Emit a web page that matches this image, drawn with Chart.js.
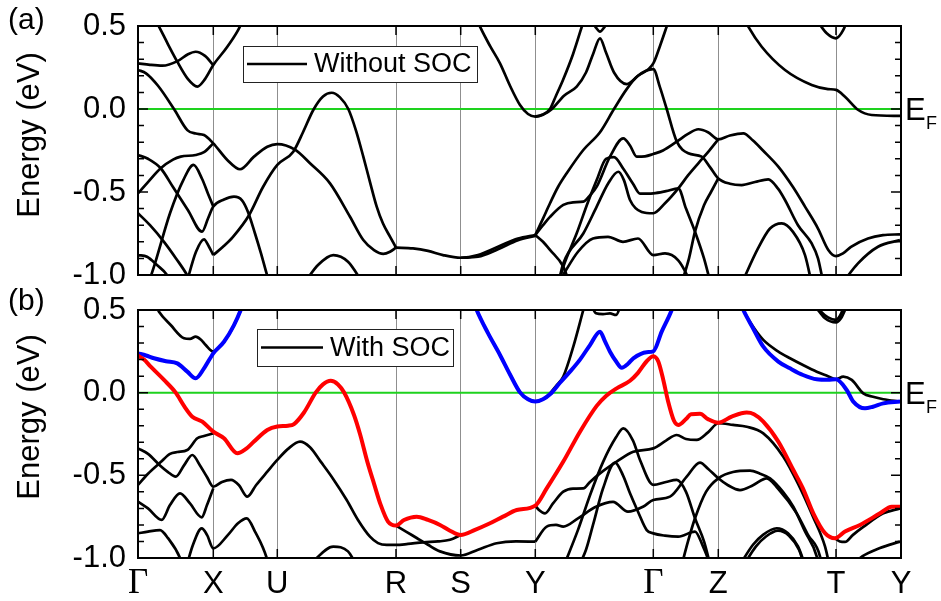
<!DOCTYPE html>
<html>
<head>
<meta charset="utf-8">
<title>Band structure with and without SOC</title>
<script src="https://cdn.jsdelivr.net/npm/chart.js@4.4.0/dist/chart.umd.min.js"></script>
<style>
  html, body { margin: 0; padding: 0; background: #fff; }
  #wrap { position: relative; width: 941px; height: 601px; }
  canvas { position: absolute; left: 0; }
  #chartA { top: 0; }
  #chartB { top: 280px; }
</style>
</head>
<body>
<div id="wrap">
  <canvas id="chartA" width="941" height="300"></canvas>
  <canvas id="chartB" width="941" height="321"></canvas>
</div>
<script>
// k-path (distance along the path) and labels of the high-symmetry points
const kTicks = [0, 75.3, 139.3, 258, 322.7, 397.3, 515.3, 580.3, 698, 763];
const kLabels = ["Γ", "X", "U", "R", "S", "Y", "Γ", "Z", "T", "Y"];
const energyTicks = [-1.0, -0.5, 0.0, 0.5];
const fermiLevel = [[0, 0], [763, 0]];

// ===== (a) without SOC : bands as [k, E(eV)] =====
const ns1 = [[8,0.64],[21,0.496],[30,0.39],[39.3,0.285],[50,0.18],[59.3,0.135],[67,0.18],[75.3,0.265],[89.3,0.375],[102.7,0.506],[106,0.56]];
const ns2 = [[0,0.275],[12,0.266],[24.3,0.261],[40,0.29],[50,0.33],[57.7,0.345],[67,0.32],[75.3,0.265]];
const ns3 = [[0,0.235],[8,0.215],[20,0.14],[36,0],[49.3,-0.127],[57.7,-0.148],[66,-0.157],[75.3,-0.207],[89.3,-0.307],[102,-0.363],[116,-0.287],[129.3,-0.227],[139.3,-0.211],[157,-0.245],[172,-0.327],[192,-0.448],[212,-0.649],[225.3,-0.789],[236,-0.85],[245.3,-0.873],[252,-0.86],[258,-0.835]];
const ns4 = [[0,-0.508],[10,-0.44],[22.7,-0.357],[35,-0.305],[42.7,-0.287],[57.7,-0.277],[66,-0.26],[75.3,-0.207]];
const ns5 = [[0,-0.277],[10,-0.3],[22.7,-0.357],[35,-0.47],[50,-0.61],[64,-0.739],[70,-0.66],[75.3,-0.588],[86,-0.545],[96,-0.528],[104,-0.55],[110,-0.62],[117,-0.75],[123,-0.87],[129,-1.0],[132,-1.06]];
const ns6 = [[10,-1.06],[17,-0.93],[32,-0.628],[45.3,-0.428],[55.5,-0.337],[64,-0.42],[70,-0.51],[75.3,-0.588]];
const ns7 = [[0,-0.628],[12,-0.7],[26,-0.8],[38,-0.9],[49,-1.0],[53,-1.05]];
const ns8 = [[0,-0.88],[9,-0.89],[19,-0.94],[29,-1.0],[33,-1.05]];
const ns9 = [[48,-1.06],[58,-0.86],[66,-0.785],[71,-0.83],[75.3,-0.88]];
const ns10 = [[75.3,-0.88],[85,-0.83],[95,-0.77],[111,-0.64],[125,-0.47],[139.3,-0.337],[155.3,-0.257],[165,-0.14],[175.3,-0.006],[185,0.075],[193.7,0.098],[202,0.07],[210.3,0],[218,-0.13],[225.3,-0.287],[232,-0.44],[238.7,-0.588],[245,-0.69],[252,-0.769],[258,-0.835]];
const ns11 = [[165,-1.06],[180,-0.94],[195.3,-0.88],[210,-0.92],[226,-1.06]];
const ns12 = [[258,-0.835],[275,-0.84],[290,-0.855],[305,-0.88],[322.7,-0.896],[340,-0.88],[360,-0.83],[380,-0.78],[397.3,-0.759]];
const ns13 = [[322.7,-0.896],[340,-0.89],[360,-0.845],[380,-0.79],[397.3,-0.765]];
const ns14 = [[336,0.58],[342,0.496],[352,0.38],[362,0.275],[372,0.14],[382,0.024],[390,-0.03],[397.3,-0.046],[405,-0.035],[414,0],[426,0.08],[438.7,0.135],[448,0.22],[455.3,0.335],[462,0.426],[468,0.34],[476,0.22],[488.7,0.15],[500,0.2],[515.3,0.275],[522,0.38],[530,0.52]];
const ns15 = [[397.3,-0.046],[404,-0.035],[412,0],[418,0.08],[425,0.175],[435,0.33],[444,0.5],[447,0.56]];
const ns16 = [[452,0.55],[458,0.49],[462,0.466],[466,0.49],[472,0.55]];
const ns17 = [[397.3,-0.759],[405,-0.66],[412,-0.568],[420,-0.47],[428.7,-0.387],[445.3,-0.247],[462,-0.14],[476,0],[488.7,0.12],[500,0.2],[515.3,0.24],[522,0.13],[528.7,0],[538.7,-0.195],[550.3,-0.267],[563.7,-0.287],[572,-0.35],[580.3,-0.418],[592,-0.45],[603.7,-0.458],[617,-0.44],[630.3,-0.424],[640,-0.48],[647,-0.548],[660,-0.7],[673.7,-0.81],[680,-0.9],[683.7,-1.0],[686,-1.06]];
const ns18 = [[397.3,-0.759],[405,-0.7],[412,-0.65],[425.3,-0.578],[435,-0.562],[445.3,-0.558],[452,-0.52],[458.7,-0.468],[472,-0.287],[485.3,-0.177],[492,-0.22],[498.7,-0.287],[507,-0.285],[515.3,-0.271],[525,-0.25],[538.7,-0.197],[550,-0.15],[560.3,-0.122],[570,-0.14],[580.3,-0.183],[592,-0.16],[605.3,-0.147],[615,-0.19],[625,-0.25],[640.3,-0.347],[655,-0.47],[667,-0.588],[680,-0.72],[690.3,-0.849],[698,-0.886],[705,-0.87],[713,-0.83],[730,-0.78],[745,-0.76],[762,-0.755]];
const ns19 = [[420,-1.06],[425.3,-0.95],[438.7,-0.749],[450,-0.56],[458.7,-0.428],[468,-0.3],[476,-0.29],[485.3,-0.36],[495,-0.45],[502,-0.51],[515.3,-0.508],[528,-0.495],[540.3,-0.478],[548,-0.6],[557,-0.739],[566,-0.9],[573,-1.06]];
const ns20 = [[420,-1.06],[425.3,-0.93],[445.3,-0.75],[458.7,-0.588],[470,-0.45],[480.3,-0.378],[486,-0.43],[492,-0.548],[503.7,-0.62],[515.3,-0.628],[527,-0.568],[540.3,-0.478],[550,-0.4],[560.3,-0.327],[570,-0.26],[580.3,-0.183]];
const ns21 = [[397.3,-0.759],[405,-0.8],[412,-0.849],[425.3,-0.95],[432,-1.06]];
const ns22 = [[425,-1.0],[440,-0.86],[455,-0.78],[470,-0.77],[485,-0.8],[500,-0.78],[515.3,-0.88],[527,-0.87],[540,-0.91],[549,-1.0],[553,-1.06]];
const ns23 = [[543,-1.06],[551,-0.9],[557,-0.739],[566,-0.58],[573,-0.5],[580.3,-0.418]];
const ns24 = [[603,-1.06],[620,-0.84],[632,-0.72],[643.7,-0.689],[655,-0.74],[667,-0.88],[674,-1.06]];
const ns25 = [[703,-1.06],[720,-0.93],[740,-0.83],[762,-0.79]];
const ns26 = [[605,0.56],[610.3,0.496],[623.7,0.375],[647,0.235],[673.7,0.145],[690,0.12],[698,0.115],[707,0.074],[720.3,-0.006],[733.7,-0.036],[762,-0.042]];
const ns27 = [[677,0.55],[688.7,0.456],[698,0.426],[705.3,0.476],[710,0.55]];

// ===== (b) with SOC =====
const socBlue1 = [[0,0.238],[8,0.225],[16,0.208],[28,0.19],[39.3,0.177],[49.3,0.127],[57.7,0.087],[66,0.147],[75.3,0.238],[86,0.308],[96,0.409],[102.7,0.5],[106,0.56]];
const socBlue2 = [[334,0.58],[338.7,0.5],[350,0.36],[362,0.228],[372,0.11],[382,0.002],[390,-0.04],[397.3,-0.054],[405,-0.04],[412,-0.01],[422,0.06],[432,0.127],[442,0.2],[452,0.288],[462,0.369],[467,0.31],[472,0.248],[478,0.19],[483.7,0.151],[490,0.175],[495.3,0.208],[508.7,0.245],[515.3,0.25],[523.7,0.369],[533.7,0.5],[537,0.56]];
const socBlue3 = [[600,0.58],[605.3,0.5],[615,0.39],[625.3,0.278],[640.3,0.188],[652,0.147],[665,0.107],[678.7,0.081],[690,0.078],[698,0.081],[708.7,0.016],[715.3,-0.054],[727,-0.095],[735,-0.085],[745.3,-0.065],[762,-0.054]];
const socRed = [[0,0.224],[6,0.2],[12.7,0.157],[26,0.077],[37.7,0],[46,-0.08],[54.3,-0.145],[64.3,-0.175],[75.3,-0.236],[86,-0.276],[99.3,-0.367],[108,-0.34],[116,-0.296],[129.3,-0.226],[139.3,-0.205],[150,-0.2],[156,-0.19],[166,-0.12],[177.7,0],[185,0.05],[192.7,0.072],[200,0.05],[206,0.002],[216,-0.135],[222,-0.25],[229.3,-0.417],[236,-0.55],[242.7,-0.679],[250,-0.78],[258,-0.804],[266,-0.77],[278.7,-0.75],[290,-0.77],[302,-0.8],[312,-0.835],[322.7,-0.861],[337,-0.83],[352,-0.79],[365,-0.75],[378.7,-0.71],[397.3,-0.683],[408.7,-0.579],[425.3,-0.417],[442,-0.236],[458.7,-0.08],[468,-0.02],[478.7,0.026],[492,0.072],[500,0.12],[508.7,0.19],[515.3,0.22],[520.3,0.188],[525.3,0.077],[530,-0.05],[536,-0.17],[540.3,-0.196],[548,-0.16],[553,-0.13],[562,-0.128],[570,-0.16],[580.3,-0.182],[593.7,-0.145],[608.7,-0.12],[616,-0.13],[625.3,-0.175],[640.3,-0.296],[655.3,-0.468],[665,-0.58],[675.3,-0.73],[687,-0.85],[697,-0.881],[707,-0.84],[722,-0.8],[742,-0.73],[753.7,-0.69],[762,-0.69]];
const so1 = [[8,0.64],[21,0.49],[32.7,0.409],[46,0.329],[52,0.325],[57.7,0.339],[63,0.32],[67.7,0.288],[75.3,0.248],[86,0.308],[96,0.409],[102.7,0.5],[106,0.56]];
const so2 = [[0,-0.558],[10,-0.49],[22.7,-0.42],[32,-0.37],[39.3,-0.359],[49.3,-0.347],[59.3,-0.276],[66,-0.262],[75.3,-0.246]];
const so3 = [[0,-0.337],[10,-0.37],[22,-0.44],[30,-0.48],[37.7,-0.508],[46,-0.44],[54.3,-0.377],[62,-0.44],[69,-0.51],[75.3,-0.569],[84,-0.54],[93,-0.528],[101,-0.56],[109.3,-0.629],[118,-0.56],[129.3,-0.478],[139.3,-0.407],[150,-0.34],[162,-0.296],[172,-0.33],[182.7,-0.417],[195,-0.52],[208.7,-0.649],[220,-0.77],[232,-0.871],[240,-0.91],[248.7,-0.921],[258,-0.921],[270,-0.915],[285.3,-0.905],[300,-0.9],[312,-0.89],[322.7,-0.861]];
const so4 = [[0,-0.659],[10,-0.7],[23.7,-0.77],[32,-0.68],[42,-0.609],[52,-0.67],[63.7,-0.754],[69,-0.68],[75.3,-0.579]];
const so5 = [[0,-0.851],[10,-0.84],[22,-0.831],[30,-0.88],[42,-1.0],[45,-1.06]];
const so6 = [[48,-1.06],[55,-0.92],[63.7,-0.821],[69,-0.86],[75.3,-0.942],[90,-0.86],[100,-0.79],[108.7,-0.76],[117,-0.84],[128.7,-1.0],[131,-1.06]];
const so7 = [[170,-1.06],[177,-1.01],[195.3,-0.931],[210,-0.96],[220,-1.06]];
const so8 = [[258,-0.804],[268,-0.84],[278.7,-0.879],[290,-0.92],[302,-0.96],[322.7,-0.985],[340,-0.95],[358.7,-0.911],[378,-0.9],[397.3,-0.901]];
const so9 = [[334,0.58],[338.7,0.5],[350,0.36],[362,0.228],[372,0.11],[382,0.002],[390,-0.04],[397.3,-0.054],[405,-0.04],[412,-0.004],[418,0.04],[425.3,0.097],[435.3,0.278],[445.3,0.5],[448,0.56]];
const so10 = [[452,0.55],[458,0.48],[465,0.475],[472,0.48],[478,0.47],[484,0.55]];
const so11 = [[397.3,-0.683],[401,-0.71],[407,-0.73],[415,-0.67],[425.3,-0.599],[435,-0.58],[445.3,-0.579],[452,-0.54],[462,-0.488],[478.7,-0.417],[495.3,-0.357],[515.3,-0.337],[528,-0.29],[538.7,-0.256],[548,-0.28],[558.7,-0.286],[570,-0.24],[580.3,-0.185],[595,-0.195],[608.7,-0.206],[625.3,-0.246],[645.3,-0.387],[660,-0.55],[675,-0.75],[687,-0.93],[692,-1.06]];
const so12 = [[425,-1.06],[440,-0.83],[452,-0.62],[465,-0.42],[478,-0.27],[485.3,-0.216],[495,-0.29],[502,-0.407],[515.3,-0.558],[528,-0.54],[538.7,-0.528],[548,-0.6],[557,-0.76],[566,-0.9],[573,-1.06]];
const so13 = [[440,-1.06],[448,-0.95],[455,-0.8],[465,-0.58],[477,-0.423],[485,-0.5],[492,-0.609],[500,-0.72],[508.7,-0.831],[515.3,-0.851],[527,-0.865],[540.3,-0.871],[557,-0.84],[565,-0.93],[570.3,-1.01],[573,-1.06]];
const so14 = [[397.3,-0.901],[408.7,-0.81],[418,-0.8],[425.3,-0.81],[440,-0.76],[458,-0.69],[475,-0.66],[490,-0.72],[505,-0.69],[515.3,-0.649],[532,-0.629],[548.7,-0.508],[562,-0.423],[570,-0.46],[580.3,-0.518],[590,-0.56],[602,-0.589],[615,-0.56],[628.7,-0.518],[640,-0.58],[658.7,-0.73],[670,-0.86],[682,-0.99],[684,-1.06]];
const so15 = [[543,-1.06],[550,-0.9],[557,-0.76],[568,-0.6],[580.3,-0.518],[595,-0.48],[612,-0.472],[622,-0.49],[632,-0.518],[645,-0.6],[655.3,-0.69],[667,-0.84],[678.7,-0.99],[681,-1.06]];
const so16 = [[600,-1.06],[615,-0.92],[625,-0.86],[638.7,-0.82],[650,-0.85],[660,-0.93],[668,-1.06]];
const so17 = [[604,-1.06],[618,-0.93],[628,-0.87],[640,-0.835],[651,-0.865],[661,-0.95],[667,-1.06]];
const so18 = [[697,-0.881],[702,-0.9],[707,-0.903],[715,-0.86],[725.3,-0.812],[745.3,-0.73],[762,-0.7]];
const so19 = [[712,-1.06],[722,-1.0],[742,-0.94],[762,-0.901]];
const so20 = [[672,0.55],[680,0.5],[687,0.45],[698,0.425],[703,0.45],[707,0.5],[710,0.55]];
const so21 = [[675,0.55],[683,0.49],[690,0.455],[698,0.44],[702,0.465],[706,0.52],[708,0.55]];
const so22 = [[600,0.58],[605.3,0.5],[615,0.4],[625.3,0.319],[640,0.25],[652,0.208],[665,0.167],[678.7,0.127],[690,0.1],[698,0.081],[705.3,0.097],[713.7,0.077],[725.3,-0.004],[735,-0.025],[745.3,-0.04],[762,-0.054]];

const noSocBlack = [ns1, ns2, ns3, ns4, ns5, ns6, ns7, ns8, ns9, ns10, ns11, ns12, ns13, ns14,
  ns15, ns16, ns17, ns18, ns19, ns20, ns21, ns22, ns23, ns24, ns25, ns26, ns27];
const socBlack = [so1, so2, so3, so4, so5, so6, so7, so8, so9, so10, so11, so12, so13, so14,
  so15, so16, so17, so18, so19, so20, so21, so22];
const socBlue = [socBlue1, socBlue2, socBlue3];

const SANS = "'Liberation Sans', Arial, Helvetica, sans-serif";
const SERIF = "'Liberation Serif', 'Times New Roman', serif";

function bandDataset(points, color, width, order) {
  return {
    data: points.map(([k, e]) => ({ x: k, y: e })),
    borderColor: color,
    borderWidth: width,
    pointRadius: 0,
    showLine: true,
    fill: false,
    cubicInterpolationMode: "monotone",
    clip: 0,
    order,
  };
}

// frame, inward ticks, legend box, E_F, panel tag and y title
const panelDecor = {
  id: "panelDecor",
  afterDatasetsDraw(chart, args, o) {
    const { ctx, chartArea: a } = chart;
    const xs = chart.scales.x;
    const ys = chart.scales.y;
    ctx.save();
    ctx.strokeStyle = "#000";
    ctx.lineWidth = 1.5;
    for (let i = 1; i < 15; i++) {
      const py = ys.getPixelForValue(-1 + i * 0.1);
      const len = i % 5 === 0 ? 10 : 6;
      ctx.beginPath();
      ctx.moveTo(a.left, py); ctx.lineTo(a.left + len, py);
      ctx.moveTo(a.right, py); ctx.lineTo(a.right - len, py);
      ctx.stroke();
    }
    kTicks.slice(1, -1).forEach((k) => {
      const px = xs.getPixelForValue(k);
      ctx.beginPath();
      ctx.moveTo(px, a.top); ctx.lineTo(px, a.top + 9);
      ctx.moveTo(px, a.bottom); ctx.lineTo(px, a.bottom - 9);
      ctx.stroke();
    });
    ctx.lineWidth = 2;
    ctx.strokeRect(a.left, a.top, a.right - a.left, a.bottom - a.top);

    // legend
    const lg = o.legend;
    ctx.fillStyle = "#fff";
    ctx.fillRect(lg.x, lg.y, lg.w, lg.h);
    ctx.lineWidth = 1;
    ctx.strokeStyle = "#222";
    ctx.strokeRect(lg.x + 0.5, lg.y + 0.5, lg.w, lg.h);
    ctx.lineWidth = 2.7;
    ctx.strokeStyle = "#000";
    ctx.beginPath();
    ctx.moveTo(lg.x + 4, lg.y + lg.h / 2);
    ctx.lineTo(lg.x + 4 + lg.line, lg.y + lg.h / 2);
    ctx.stroke();
    ctx.fillStyle = "#000";
    ctx.font = `27px ${SANS}`;
    ctx.textBaseline = "middle";
    ctx.textAlign = "left";
    ctx.fillText(lg.text, lg.x + lg.line + 11, lg.y + lg.h / 2 + 1);

    // Fermi level label
    const y0 = ys.getPixelForValue(0);
    ctx.textBaseline = "alphabetic";
    ctx.font = `31px ${SANS}`;
    ctx.fillText("E", a.right + 4, y0 + 11);
    ctx.font = `18px ${SANS}`;
    ctx.fillText("F", a.right + 25, y0 + 20);

    // panel tag
    ctx.font = `30px ${SANS}`;
    ctx.textBaseline = "middle";
    ctx.fillText(o.tag, 8, o.tagY);

    // y axis title
    ctx.translate(30, o.titleY);
    ctx.rotate(-Math.PI / 2);
    ctx.textAlign = "center";
    ctx.font = `31px ${SANS}`;
    ctx.fillText("Energy (eV)", 0, 0);
    ctx.restore();
  },
};

function makePanel(canvasId, sets, cfg) {
  const datasets = [];
  (sets.red || []).forEach((b) => datasets.push(bandDataset(b, "#ff0000", 4, 0)));
  (sets.blue || []).forEach((b) => datasets.push(bandDataset(b, "#0000ff", 4, 0)));
  sets.black.forEach((b) => datasets.push(bandDataset(b, "#000000", 2.7, 1)));
  datasets.push(bandDataset(fermiLevel, "#1ed21e", 2, 2));

  return new Chart(document.getElementById(canvasId), {
    type: "scatter",
    data: { datasets },
    plugins: [panelDecor],
    options: {
      responsive: false,
      animation: false,
      events: [],
      devicePixelRatio: 1,
      layout: { autoPadding: false, padding: { top: cfg.top, right: 40, bottom: 0, left: 0 } },
      plugins: {
        legend: { display: false },
        tooltip: { enabled: false },
        panelDecor: cfg.decor,
      },
      scales: {
        x: {
          type: "linear",
          min: 0,
          max: 763,
          afterBuildTicks: (s) => { s.ticks = kTicks.map((v) => ({ value: v })); },
          afterFit: (s) => { s.height = cfg.xHeight; s.paddingLeft = 0; s.paddingRight = 0; },
          grid: { color: "#8f8f8f", lineWidth: 1, drawTicks: false },
          border: { display: false },
          ticks: {
            display: cfg.showX,
            autoSkip: false,
            maxRotation: 0,
            padding: 8,
            color: "#000",
            callback: (v, i) => kLabels[i],
            font: (c) => kLabels[c.index] === "Γ"
              ? { family: SERIF, size: 35, lineHeight: "36px" }
              : { family: SANS, size: 31, lineHeight: "36px" },
          },
        },
        y: {
          type: "linear",
          min: -1,
          max: 0.5,
          afterBuildTicks: (s) => { s.ticks = energyTicks.map((v) => ({ value: v })); },
          afterFit: (s) => { s.width = 138; s.paddingTop = 0; s.paddingBottom = 0; },
          grid: { display: false, drawTicks: false },
          border: { display: false },
          ticks: {
            padding: 12,
            color: "#000",
            font: { family: SANS, size: 31 },
            callback: (v) => Number(v).toFixed(1),
          },
        },
      },
    },
  });
}

makePanel("chartA", { black: noSocBlack }, {
  top: 26, xHeight: 25, showX: false,
  decor: { tag: "(a)", tagY: 21, titleY: 135,
    legend: { x: 243, y: 46, w: 234, h: 36, line: 60, text: "Without SOC" } },
});

makePanel("chartB", { black: socBlack, blue: socBlue, red: [socRed] }, {
  top: 30, xHeight: 43, showX: true,
  decor: { tag: "(b)", tagY: 22, titleY: 137,
    legend: { x: 257, y: 49, w: 196, h: 37, line: 62, text: "With SOC" } },
});
</script>
</body>
</html>
